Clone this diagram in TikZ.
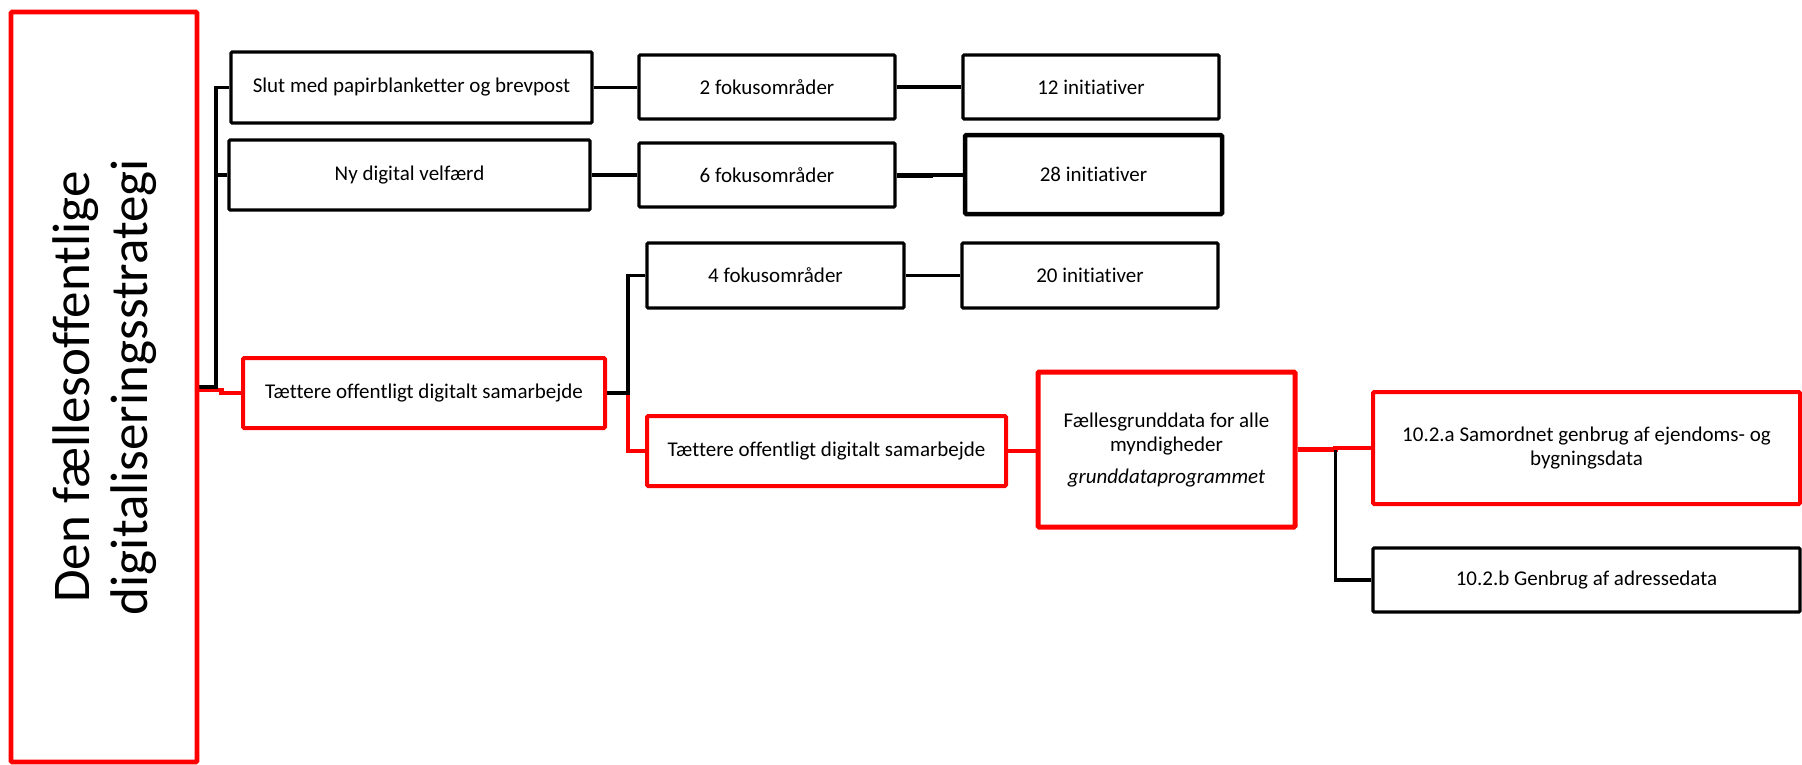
\documentclass[tikz,border=0pt]{standalone}
\usepackage{fontspec}
\setmainfont{Carlito}[Ligatures={NoCommon}]
\pgfdeclarelayer{background}
\pgfsetlayers{background,main}
\definecolor{strred}{RGB}{255,0,0}
\tikzset{
  box/.style={draw=black, line width=3.2pt, fill=white, inner sep=0pt, align=center,
              rounded corners=1.2pt, font=\fontsize{21}{24}\selectfont},
  redbox/.style={box, draw=strred, line width=4pt},
  blkln/.style={draw=black, line width=3.3pt},
  redln/.style={draw=strred, line width=4.4pt},
}
\begin{document}
\begin{tikzpicture}[x=1pt,y=-1pt]
\useasboundingbox (0,0) rectangle (1802,764);

% strategy root
\node[redbox, line width=4.7pt, minimum width=186pt, minimum height=750pt] (big) at (104,387) {};
\node[rotate=90, align=center, inner sep=0pt, font=\fontsize{53}{58}\selectfont] (title)
  at ([xshift=1pt]big.center) {Den fællesoffentlige\\digitaliseringsstrategi};

% first row
\node[box, minimum width=361pt, minimum height=71pt] (slut) at (411.5,87.5) {Slut med papirblanketter og brevpost};
\node[box, minimum width=256pt, minimum height=64pt] (f2) at (767,87) {2 fokusområder};
\node[box, minimum width=256pt, minimum height=64pt] (i12) at (1091,87) {12 initiativer};

% second row
\node[box, minimum width=361pt, minimum height=70pt] (ny) at (409.5,175) {Ny digital velfærd};
\node[box, minimum width=256pt, minimum height=64pt] (f6) at (767,175) {6 fokusområder};
\node[box, line width=4.5pt, minimum width=257pt, minimum height=79pt] (i28) at (1093.5,174.5) {28 initiativer};

% third branch
\node[redbox, minimum width=362pt, minimum height=70pt] (t1) at (424,393) {Tættere offentligt digitalt samarbejde};
\node[box, minimum width=257pt, minimum height=65pt] (f4) at (775.5,275.5) {4 fokusområder};
\node[box, minimum width=256pt, minimum height=65pt] (i20) at (1090,275.5) {20 initiativer};
\node[redbox, minimum width=359pt, minimum height=70pt] (t2) at (826.5,451) {Tættere offentligt digitalt samarbejde};
\node[redbox, line width=5pt, minimum width=257pt, minimum height=155pt] (fg) at (1166.5,449.5)
  {Fællesgrunddata for alle\\myndigheder\\[8pt]\textit{grunddataprogrammet}};
\node[redbox, minimum width=427pt, minimum height=112pt] (ia) at (1586.5,448)
  {10.2.a Samordnet genbrug af ejendoms- og\\bygningsdata};
\node[box, minimum width=427pt, minimum height=64pt] (ib) at (1586.5,580) {10.2.b Genbrug af adressedata};

\begin{pgfonlayer}{background}
  % root to the three strategy tracks
  \draw[redln] ([yshift=-3pt]big.east) -- ++(22,0) |- (t1.west);
  \draw[blkln] (big.east) -- ++(16.5,0) coordinate (j1) |- (slut.west);
  \draw[blkln] (j1) |- (ny.west);
  % rows of focus areas and initiatives
  \draw[blkln] (slut.east) -- (slut.east -| f2.west);
  \draw[blkln] (f2.east) -- (i12.west);
  \draw[blkln] (ny.east) -- (f6.west);
  \draw[blkln] (f6.east) -- (f6.east -| i28.west);
  \draw[draw=black, line width=5pt] (f6.east) -- ++(36,0);
  \draw[blkln] (f4.east) -- (i20.west);
  % collaboration track
  \draw[redln] (t1.east) -- ++(21,0) coordinate (j2) |- (t2.west);
  \draw[blkln] (t1.east) -- (j2) |- (f4.west);
  \draw[redln] (t2.east) -- (t2.east -| fg.west);
  \draw[redln] (fg.east) -- ++(38,0) coordinate (j3) |- (ia.west);
  \draw[blkln] (j3) |- (ib.west);
\end{pgfonlayer}
\end{tikzpicture}
\end{document}
